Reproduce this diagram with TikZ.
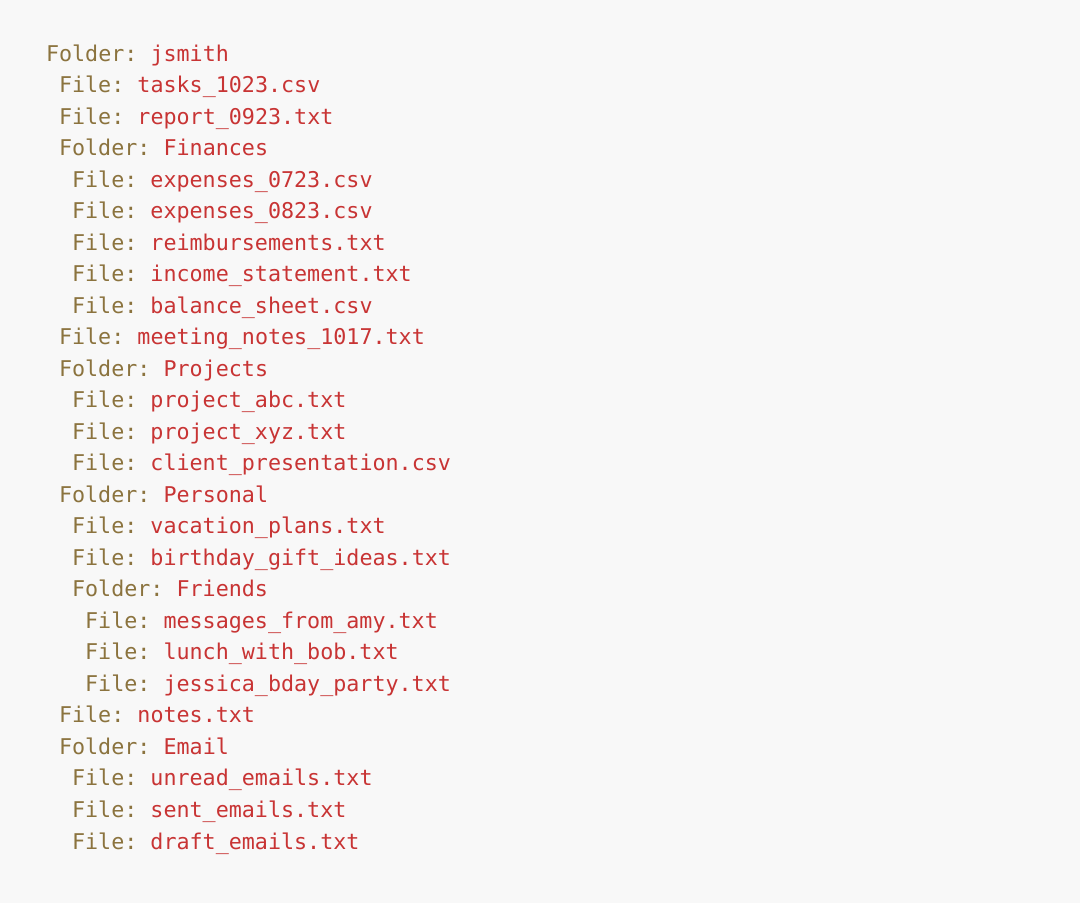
\documentclass[tikz,border=0pt]{standalone}
\usepackage{fontspec}
\setmonofont{DejaVu Sans Mono}
\definecolor{bgc}{RGB}{248,248,248}
\definecolor{lblc}{RGB}{139,115,62}
\definecolor{namec}{RGB}{200,52,52}
\newcommand{\ent}[2]{{\color{lblc}#1:}\ {\color{namec}#2}}
\begin{document}
\begin{tikzpicture}[x=1pt,y=-1pt,
  line/.style={anchor=base west, inner sep=0pt, outer sep=0pt, font=\ttfamily\fontsize{21.7}{24}\selectfont}]
\fill[bgc] (0,0) rectangle (1080,903);
\useasboundingbox (0,0) rectangle (1080,903);
\def\cw{13.05}
\def\lh{31.52}
\node[line] (l0)  at (46+0*\cw, 61+0*\lh)  {\ent{Folder}{jsmith}};
\node[line] (l1)  at (46+1*\cw, 61+1*\lh)  {\ent{File}{tasks\_1023.csv}};
\node[line] (l2)  at (46+1*\cw, 61+2*\lh)  {\ent{File}{report\_0923.txt}};
\node[line] (l3)  at (46+1*\cw, 61+3*\lh)  {\ent{Folder}{Finances}};
\node[line] (l4)  at (46+2*\cw, 61+4*\lh)  {\ent{File}{expenses\_0723.csv}};
\node[line] (l5)  at (46+2*\cw, 61+5*\lh)  {\ent{File}{expenses\_0823.csv}};
\node[line] (l6)  at (46+2*\cw, 61+6*\lh)  {\ent{File}{reimbursements.txt}};
\node[line] (l7)  at (46+2*\cw, 61+7*\lh)  {\ent{File}{income\_statement.txt}};
\node[line] (l8)  at (46+2*\cw, 61+8*\lh)  {\ent{File}{balance\_sheet.csv}};
\node[line] (l9)  at (46+1*\cw, 61+9*\lh)  {\ent{File}{meeting\_notes\_1017.txt}};
\node[line] (l10) at (46+1*\cw, 61+10*\lh) {\ent{Folder}{Projects}};
\node[line] (l11) at (46+2*\cw, 61+11*\lh) {\ent{File}{project\_abc.txt}};
\node[line] (l12) at (46+2*\cw, 61+12*\lh) {\ent{File}{project\_xyz.txt}};
\node[line] (l13) at (46+2*\cw, 61+13*\lh) {\ent{File}{client\_presentation.csv}};
\node[line] (l14) at (46+1*\cw, 61+14*\lh) {\ent{Folder}{Personal}};
\node[line] (l15) at (46+2*\cw, 61+15*\lh) {\ent{File}{vacation\_plans.txt}};
\node[line] (l16) at (46+2*\cw, 61+16*\lh) {\ent{File}{birthday\_gift\_ideas.txt}};
\node[line] (l17) at (46+2*\cw, 61+17*\lh) {\ent{Folder}{Friends}};
\node[line] (l18) at (46+3*\cw, 61+18*\lh) {\ent{File}{messages\_from\_amy.txt}};
\node[line] (l19) at (46+3*\cw, 61+19*\lh) {\ent{File}{lunch\_with\_bob.txt}};
\node[line] (l20) at (46+3*\cw, 61+20*\lh) {\ent{File}{jessica\_bday\_party.txt}};
\node[line] (l21) at (46+1*\cw, 61+21*\lh) {\ent{File}{notes.txt}};
\node[line] (l22) at (46+1*\cw, 61+22*\lh) {\ent{Folder}{Email}};
\node[line] (l23) at (46+2*\cw, 61+23*\lh) {\ent{File}{unread\_emails.txt}};
\node[line] (l24) at (46+2*\cw, 61+24*\lh) {\ent{File}{sent\_emails.txt}};
\node[line] (l25) at (46+2*\cw, 61+25*\lh) {\ent{File}{draft\_emails.txt}};
\end{tikzpicture}
\end{document}
